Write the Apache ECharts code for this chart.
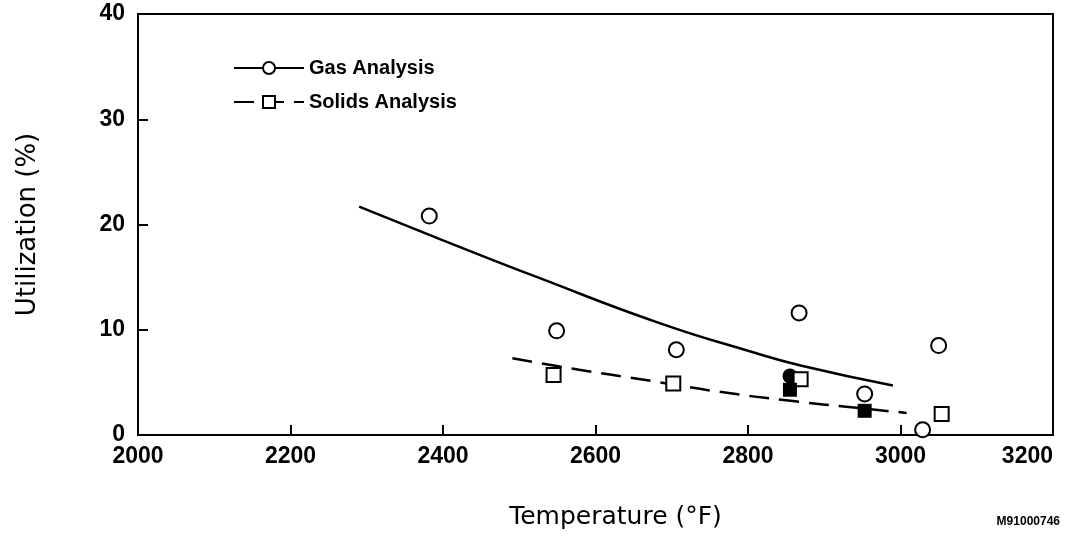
<!DOCTYPE html>
<html>
<head>
<meta charset="utf-8">
<script src="https://cdn.jsdelivr.net/npm/echarts@6/dist/echarts.min.js"></script>
<style>
  html, body { margin: 0; padding: 0; background: #fff; }
  #chart-container { width: 1070px; height: 537px; }
</style>
</head>
<body>
<div id="chart-container"></div>
<script>
var dom = document.getElementById("chart-container");
var myChart = echarts.init(dom, null, { renderer: "canvas" });

// x tick values (temperature, F) and y tick values (utilization, %)
const xTicks = [2000, 2200, 2400, 2600, 2800, 3000, 3200];
const yTicks = [0, 10, 20, 30, 40];

// measured points: [temperature, utilization]
const gasOpen = [[2382, 20.8], [2549, 9.9], [2706, 8.1], [2867, 11.6], [2953, 3.9], [3029, 0.5], [3050, 8.5]];
const gasFilled = [[2855, 5.6]];
const solidsOpen = [[2545, 5.7], [2702, 4.9], [2869, 5.3], [3054, 2.0]];
const solidsFilled = [[2855, 4.3], [2953, 2.3]];

// fitted curves
const gasFitX = [2290, 2400, 2527, 2685, 2800, 2869, 2990];
const gasFitY = [21.7, 18.5, 14.9, 10.6, 8.0, 6.6, 4.7];
const solidsFitX = [2491, 2553, 2685, 2763, 2850, 2953, 3008];
const solidsFitY = [7.3, 6.5, 5.0, 4.1, 3.3, 2.5, 2.1];

function pairs(xs, ys) {
  return xs.map(function (x, i) { return [x, ys[i]]; });
}

var labelFont = {
  color: "#000", fontFamily: "Liberation Sans", fontWeight: "bold", fontSize: 23,
  formatter: function (v) { return String(v); }
};

var option = {
  animation: false,
  backgroundColor: "#fff",
  grid: {
    left: 138, right: 17, top: 14, bottom: 102,
    show: true, borderColor: "#000", borderWidth: 2, backgroundColor: "transparent"
  },
  legend: {
    data: ["Gas Analysis", "Solids Analysis"],
    orient: "vertical",
    left: 228,
    top: 52,
    itemWidth: 70,
    itemHeight: 15,
    itemGap: 12,
    selectedMode: false,
    textStyle: { color: "#000", fontFamily: "Liberation Sans", fontWeight: "bold", fontSize: 20, lineHeight: 22 }
  },
  xAxis: {
    type: "value",
    min: xTicks[0],
    max: xTicks[xTicks.length - 1],
    interval: 200,
    name: "Temperature (\u00b0F)",
    nameLocation: "middle",
    nameGap: 70,
    nameTextStyle: { color: "#000", fontFamily: "DejaVu Sans", fontSize: 25, padding: [0, 0, 0, 40] },
    axisLine: { lineStyle: { color: "#000", width: 2 } },
    axisTick: { inside: true, length: 10, lineStyle: { color: "#000", width: 2 } },
    axisLabel: Object.assign({ margin: 10, alignMaxLabel: "right" }, labelFont),
    splitLine: { show: false }
  },
  yAxis: {
    type: "value",
    min: yTicks[0],
    max: yTicks[yTicks.length - 1],
    interval: 10,
    name: "Utilization (%)",
    nameLocation: "middle",
    nameGap: 97,
    nameTextStyle: { color: "#000", fontFamily: "DejaVu Sans", fontSize: 26 },
    axisLine: { lineStyle: { color: "#000", width: 2 } },
    axisTick: { inside: true, length: 10, lineStyle: { color: "#000", width: 2 } },
    axisLabel: Object.assign({ margin: 13 }, labelFont),
    splitLine: { show: false }
  },
  series: [
    {
      name: "Gas Analysis",
      type: "line",
      smooth: true,
      symbol: "emptyCircle",
      symbolSize: 15,
      showSymbol: false,
      itemStyle: { color: "#000", borderWidth: 2.5 },
      lineStyle: { color: "#000", width: 2.5 },
      data: pairs(gasFitX, gasFitY),
      z: 2
    },
    {
      name: "Solids Analysis",
      type: "line",
      smooth: true,
      symbol: "emptyRect",
      symbolSize: 14,
      showSymbol: false,
      itemStyle: { color: "#000", borderWidth: 2.5 },
      lineStyle: { color: "#000", width: 2.5, type: [20, 10] },
      data: pairs(solidsFitX, solidsFitY),
      z: 2
    },
    {
      name: "Gas Analysis",
      type: "scatter",
      symbol: "emptyCircle",
      symbolSize: 15,
      itemStyle: { color: "#000", borderWidth: 2.5, opacity: 1 },
      data: gasOpen,
      z: 3
    },
    {
      name: "Gas Analysis",
      type: "scatter",
      symbol: "circle",
      symbolSize: 15,
      itemStyle: { color: "#000", opacity: 1 },
      data: gasFilled,
      z: 3
    },
    {
      name: "Solids Analysis",
      type: "scatter",
      symbol: "emptyRect",
      symbolSize: 14,
      itemStyle: { color: "#000", borderWidth: 2.5, opacity: 1 },
      data: solidsOpen,
      z: 4
    },
    {
      name: "Solids Analysis",
      type: "scatter",
      symbol: "rect",
      symbolSize: 14,
      itemStyle: { color: "#000", opacity: 1 },
      data: solidsFilled,
      z: 5
    }
  ],
  graphic: [
    {
      type: "text",
      right: 10,
      top: 516,
      style: { text: "M91000746", fill: "#000", font: "bold 12px Liberation Sans" }
    }
  ]
};

myChart.setOption(option);
window.addEventListener("resize", myChart.resize);
</script>
</body>
</html>
